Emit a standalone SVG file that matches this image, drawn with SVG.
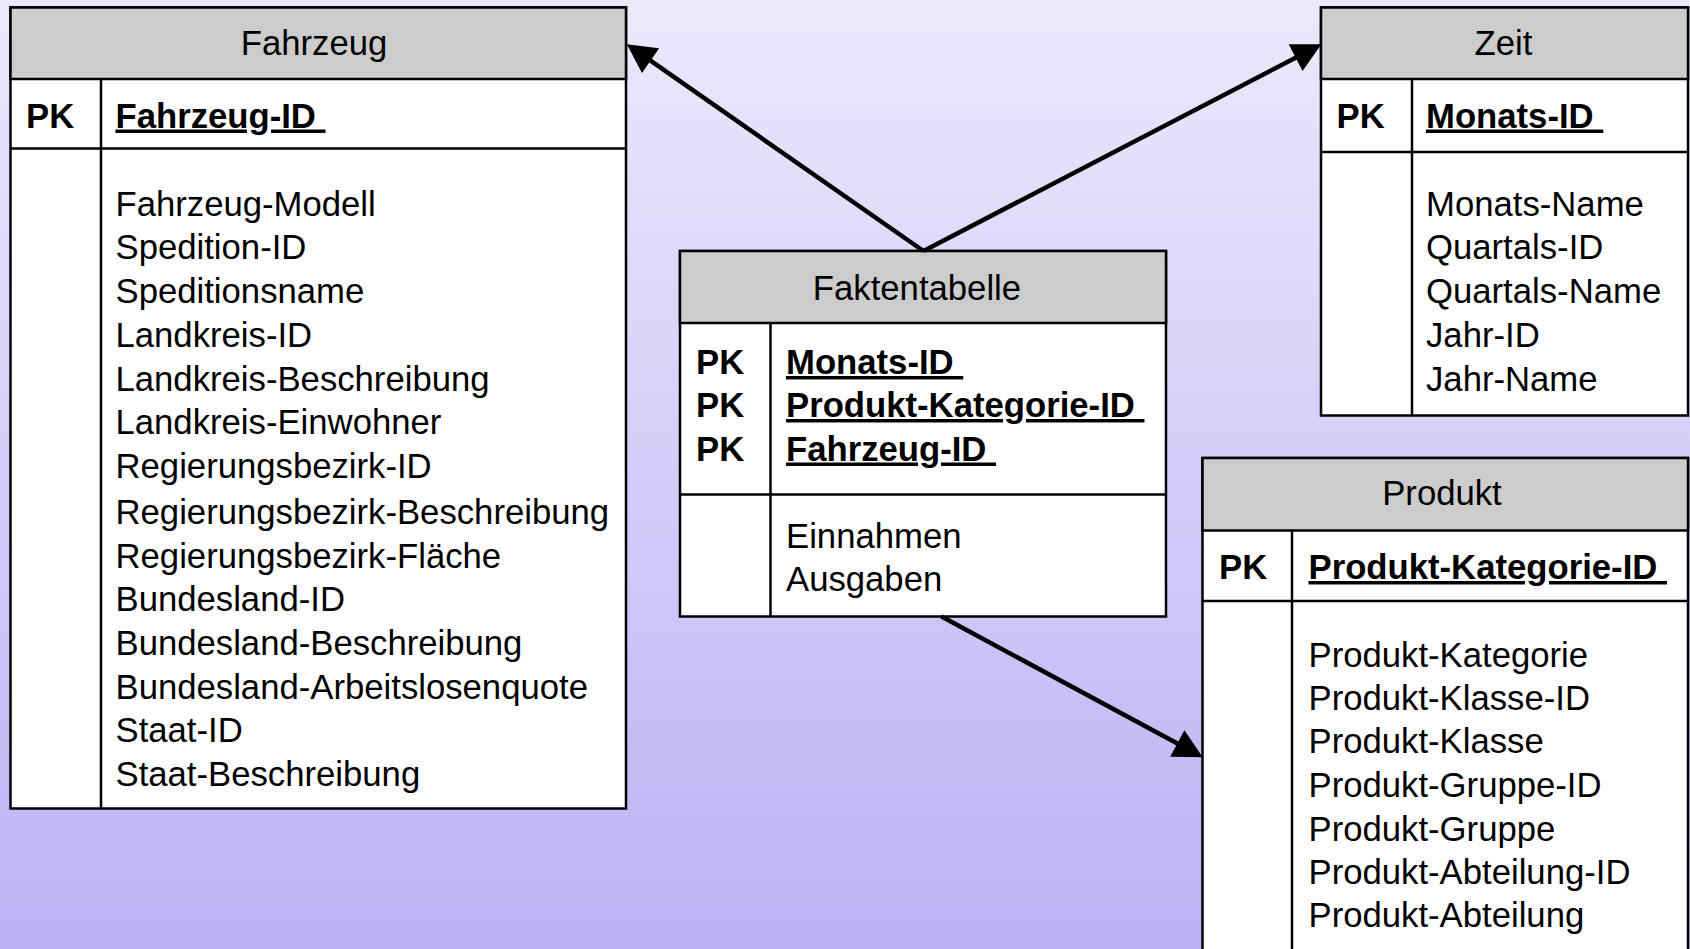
<svg xmlns="http://www.w3.org/2000/svg" width="1690" height="949" viewBox="0 0 1690 949">
<defs>
<linearGradient id="bg" x1="0" y1="0" x2="0" y2="1">
<stop offset="0" stop-color="#ECE9FC"/>
<stop offset="1" stop-color="#BCB1F4"/>
</linearGradient>
<marker id="ah" markerUnits="userSpaceOnUse" markerWidth="30" markerHeight="30" viewBox="0 0 27 28" refX="7" refY="14" orient="auto">
<path d="M0,0 L27,14 L0,28 z" fill="#000"/>
</marker>
<style>
.box{fill:#fff;stroke:#000;stroke-width:2.5}
.hdr{fill:#CCCCCC;stroke:#000;stroke-width:2.5}
.ln{stroke:#000;stroke-width:2.5;fill:none}
text{font-family:"Liberation Sans",Arial,sans-serif;font-size:34.7px;fill:#000}
.t{text-anchor:middle}
.b{font-weight:bold}
.u{font-weight:bold;text-decoration:underline}
.con{stroke:#000;stroke-width:4.5;fill:none;marker-end:url(#ah)}
</style>
</defs>
<rect x="0" y="0" width="1690" height="949" fill="url(#bg)"/>

<g id="fahrzeug">
<rect class="box" x="10.5" y="7.5" width="615.5" height="801"/>
<rect class="hdr" x="10.5" y="7.5" width="615.5" height="71.5"/>
<line class="ln" x1="10.5" y1="148.5" x2="626" y2="148.5"/>
<line class="ln" x1="101" y1="79" x2="101" y2="808.5"/>
<text class="t" x="314" y="55">Fahrzeug</text>
<text class="b" x="26" y="127.5">PK</text>
<text class="u" x="115.5" y="127.5" xml:space="preserve">Fahrzeug-ID </text>
<text x="115.5" y="216">Fahrzeug-Modell</text>
<text x="115.5" y="259.2">Spedition-ID</text>
<text x="115.5" y="303.4">Speditionsname</text>
<text x="115.5" y="346.5">Landkreis-ID</text>
<text x="115.5" y="390.7">Landkreis-Beschreibung</text>
<text x="115.5" y="433.8">Landkreis-Einwohner</text>
<text x="115.5" y="478">Regierungsbezirk-ID</text>
<text x="115.5" y="524.4">Regierungsbezirk-Beschreibung</text>
<text x="115.5" y="567.5">Regierungsbezirk-Fläche</text>
<text x="115.5" y="610.6">Bundesland-ID</text>
<text x="115.5" y="654.8">Bundesland-Beschreibung</text>
<text x="115.5" y="699">Bundesland-Arbeitslosenquote</text>
<text x="115.5" y="742.1">Staat-ID</text>
<text x="115.5" y="786.3">Staat-Beschreibung</text>
</g>

<g id="zeit">
<rect class="box" x="1321" y="7.5" width="367" height="408"/>
<rect class="hdr" x="1321" y="7.5" width="367" height="71.5"/>
<line class="ln" x1="1321" y1="152" x2="1688" y2="152"/>
<line class="ln" x1="1412" y1="79" x2="1412" y2="415.5"/>
<text class="t" x="1503.5" y="55">Zeit</text>
<text class="b" x="1336.5" y="127.5">PK</text>
<text class="u" x="1426" y="127.5" xml:space="preserve">Monats-ID </text>
<text x="1426" y="216">Monats-Name</text>
<text x="1426" y="259.2">Quartals-ID</text>
<text x="1426" y="303.4">Quartals-Name</text>
<text x="1426" y="346.5">Jahr-ID</text>
<text x="1426" y="390.7">Jahr-Name</text>
</g>

<g id="faktentabelle">
<rect class="box" x="680" y="251" width="486" height="365.5"/>
<rect class="hdr" x="680" y="251" width="486" height="72"/>
<line class="ln" x1="680" y1="494.5" x2="1166" y2="494.5"/>
<line class="ln" x1="770.5" y1="323" x2="770.5" y2="616.5"/>
<text class="t" x="917" y="300">Faktentabelle</text>
<text class="b" x="696" y="374">PK</text>
<text class="b" x="696" y="417">PK</text>
<text class="b" x="696" y="460.5">PK</text>
<text class="u" x="786" y="374" xml:space="preserve">Monats-ID </text>
<text class="u" x="786" y="417" xml:space="preserve">Produkt-Kategorie-ID </text>
<text class="u" x="786" y="460.5" xml:space="preserve">Fahrzeug-ID </text>
<text x="786" y="547.5">Einnahmen</text>
<text x="786" y="591">Ausgaben</text>
</g>

<g id="produkt">
<rect class="box" x="1202.5" y="458" width="485.5" height="510"/>
<rect class="hdr" x="1202.5" y="458" width="485.5" height="72.5"/>
<line class="ln" x1="1202.5" y1="601" x2="1688" y2="601"/>
<line class="ln" x1="1292" y1="530.5" x2="1292" y2="968"/>
<text class="t" x="1442" y="504.5">Produkt</text>
<text class="b" x="1219" y="579">PK</text>
<text class="u" x="1308.5" y="579" xml:space="preserve">Produkt-Kategorie-ID </text>
<text x="1308.5" y="666.6">Produkt-Kategorie</text>
<text x="1308.5" y="709.7">Produkt-Klasse-ID</text>
<text x="1308.5" y="752.8">Produkt-Klasse</text>
<text x="1308.5" y="797">Produkt-Gruppe-ID</text>
<text x="1308.5" y="841.2">Produkt-Gruppe</text>
<text x="1308.5" y="884.3">Produkt-Abteilung-ID</text>
<text x="1308.5" y="927.4">Produkt-Abteilung</text>
</g>

<g id="connectors">
<line class="con" x1="923.5" y1="251" x2="644.4" y2="56.4"/>
<line class="con" x1="923.5" y1="251" x2="1302.3" y2="54.2"/>
<line class="con" x1="941.5" y1="616.5" x2="1183.9" y2="747"/>
</g>
</svg>
